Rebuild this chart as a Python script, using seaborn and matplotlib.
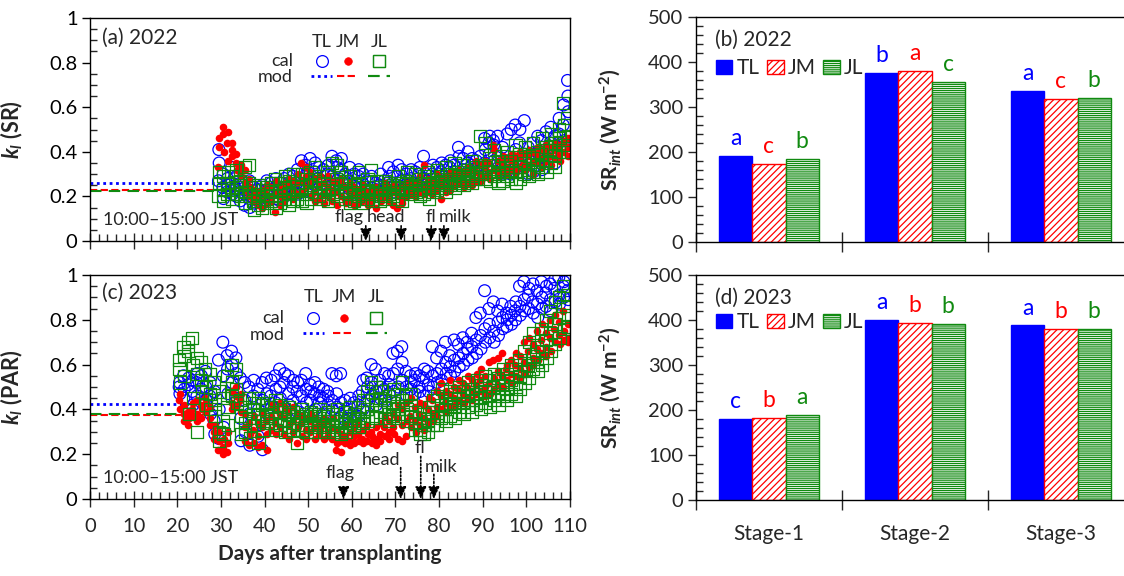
import numpy as np
import pandas as pd
import matplotlib
matplotlib.use("Agg")
import matplotlib.pyplot as plt
import seaborn as sns
from matplotlib.ticker import MultipleLocator, FormatStrFormatter
from matplotlib.lines import Line2D
from matplotlib.patches import Patch

# ---------------- data ----------------
cultivars = ["TL", "JM", "JL"]
hours = [10.5, 12.5, 14.5]          # sampling hours within a day (10:00-15:00)

start22 = 29
TL22 = [
    0.27, 0.41, 0.35, 0.24, 0.30, 0.19, 0.22, 0.28, 0.25, 0.33, 0.26, 0.21, 0.23, 0.29, 0.20,
    0.18, 0.26, 0.22, 0.16, 0.24, 0.21, 0.19, 0.27, 0.15, 0.21, 0.17, 0.24, 0.18, 0.23, 0.20,
    0.20, 0.25, 0.17, 0.22, 0.27, 0.19, 0.21, 0.26, 0.23, 0.19, 0.24, 0.28, 0.23, 0.18, 0.26,
    0.22, 0.28, 0.20, 0.25, 0.21, 0.30, 0.24, 0.29, 0.22, 0.26, 0.32, 0.21, 0.36, 0.28, 0.24,
    0.34, 0.23, 0.30, 0.37, 0.27, 0.22, 0.31, 0.25, 0.35, 0.28, 0.33, 0.24, 0.26, 0.32, 0.22,
    0.30, 0.24, 0.34, 0.38, 0.29, 0.25, 0.36, 0.27, 0.33, 0.32, 0.24, 0.37, 0.30, 0.26, 0.22,
    0.27, 0.33, 0.23, 0.25, 0.30, 0.21, 0.23, 0.29, 0.32, 0.26, 0.21, 0.30, 0.22, 0.27, 0.19,
    0.24, 0.29, 0.21, 0.20, 0.26, 0.23, 0.25, 0.22, 0.30, 0.27, 0.21, 0.24, 0.33, 0.25, 0.29,
    0.26, 0.31, 0.22, 0.29, 0.24, 0.34, 0.32, 0.27, 0.23, 0.25, 0.30, 0.22, 0.28, 0.24, 0.32,
    0.26, 0.31, 0.23, 0.30, 0.25, 0.33, 0.38, 0.28, 0.25, 0.27, 0.32, 0.24, 0.30, 0.26, 0.34,
    0.28, 0.33, 0.25, 0.31, 0.27, 0.35, 0.29, 0.34, 0.26, 0.33, 0.28, 0.36, 0.34, 0.31, 0.27,
    0.42, 0.29, 0.38, 0.32, 0.37, 0.28, 0.30, 0.35, 0.40, 0.34, 0.29, 0.37, 0.31, 0.36, 0.33,
    0.38, 0.32, 0.29, 0.46, 0.35, 0.41, 0.44, 0.39, 0.47, 0.45, 0.43, 0.36, 0.47, 0.38, 0.33,
    0.33, 0.42, 0.30, 0.36, 0.31, 0.48, 0.30, 0.50, 0.34, 0.52, 0.35, 0.41, 0.44, 0.50, 0.37,
    0.39, 0.54, 0.33, 0.42, 0.30, 0.36, 0.37, 0.44, 0.31, 0.34, 0.40, 0.47, 0.45, 0.38, 0.32,
    0.41, 0.49, 0.36, 0.44, 0.38, 0.51, 0.40, 0.47, 0.35, 0.48, 0.55, 0.42, 0.52, 0.61, 0.45,
    0.72, 0.65, 0.58]
JM22 = [
    0.33, 0.42, 0.46, 0.48, 0.51, 0.40, 0.44, 0.49, 0.36, 0.41, 0.38, 0.44, 0.35, 0.39, 0.32,
    0.31, 0.34, 0.29, 0.26, 0.32, 0.23, 0.20, 0.28, 0.24, 0.18, 0.23, 0.21, 0.16, 0.22, 0.19,
    0.19, 0.15, 0.23, 0.21, 0.17, 0.25, 0.18, 0.24, 0.20, 0.13, 0.22, 0.27, 0.20, 0.16, 0.24,
    0.22, 0.18, 0.26, 0.25, 0.20, 0.28, 0.23, 0.27, 0.19, 0.26, 0.21, 0.30, 0.35, 0.27, 0.22,
    0.29, 0.24, 0.33, 0.27, 0.31, 0.20, 0.22, 0.28, 0.18, 0.25, 0.19, 0.29, 0.21, 0.26, 0.17,
    0.24, 0.29, 0.20, 0.18, 0.23, 0.27, 0.22, 0.16, 0.26, 0.25, 0.20, 0.28, 0.19, 0.24, 0.17,
    0.22, 0.18, 0.26, 0.16, 0.21, 0.24, 0.20, 0.17, 0.23, 0.18, 0.25, 0.21, 0.22, 0.19, 0.16,
    0.17, 0.23, 0.20, 0.21, 0.15, 0.24, 0.19, 0.22, 0.18, 0.23, 0.20, 0.26, 0.18, 0.24, 0.21,
    0.22, 0.16, 0.25, 0.15, 0.20, 0.23, 0.19, 0.24, 0.17, 0.22, 0.26, 0.20, 0.24, 0.21, 0.27,
    0.20, 0.25, 0.23, 0.26, 0.22, 0.29, 0.34, 0.24, 0.21, 0.25, 0.28, 0.22, 0.21, 0.27, 0.24,
    0.26, 0.23, 0.30, 0.19, 0.27, 0.25, 0.24, 0.29, 0.22, 0.27, 0.23, 0.31, 0.25, 0.30, 0.28,
    0.29, 0.26, 0.32, 0.27, 0.31, 0.24, 0.30, 0.26, 0.33, 0.28, 0.32, 0.25, 0.31, 0.36, 0.27,
    0.30, 0.34, 0.27, 0.33, 0.29, 0.36, 0.31, 0.35, 0.28, 0.43, 0.41, 0.32, 0.32, 0.36, 0.29,
    0.35, 0.31, 0.38, 0.33, 0.37, 0.30, 0.36, 0.32, 0.39, 0.34, 0.38, 0.31, 0.37, 0.33, 0.40,
    0.35, 0.39, 0.32, 0.38, 0.34, 0.41, 0.36, 0.30, 0.40, 0.39, 0.35, 0.42, 0.37, 0.41, 0.33,
    0.40, 0.36, 0.43, 0.38, 0.42, 0.34, 0.41, 0.37, 0.44, 0.39, 0.43, 0.36, 0.44, 0.40, 0.45,
    0.42, 0.46, 0.38]
JL22 = [
    0.20, 0.31, 0.26, 0.23, 0.29, 0.18, 0.26, 0.21, 0.31, 0.29, 0.23, 0.19, 0.24, 0.32, 0.21,
    0.27, 0.20, 0.25, 0.33, 0.22, 0.17, 0.34, 0.26, 0.20, 0.18, 0.24, 0.14, 0.21, 0.16, 0.25,
    0.15, 0.20, 0.23, 0.19, 0.24, 0.17, 0.22, 0.18, 0.26, 0.28, 0.20, 0.15, 0.17, 0.23, 0.26,
    0.24, 0.19, 0.29, 0.21, 0.27, 0.16, 0.30, 0.22, 0.18, 0.19, 0.26, 0.23, 0.24, 0.18, 0.30,
    0.28, 0.21, 0.17, 0.25, 0.31, 0.19, 0.22, 0.27, 0.33, 0.29, 0.20, 0.24, 0.19, 0.26, 0.22,
    0.31, 0.23, 0.18, 0.24, 0.35, 0.21, 0.28, 0.20, 0.34, 0.22, 0.31, 0.26, 0.27, 0.19, 0.23,
    0.21, 0.29, 0.17, 0.25, 0.18, 0.22, 0.20, 0.26, 0.31, 0.24, 0.17, 0.21, 0.19, 0.23, 0.28,
    0.32, 0.22, 0.18, 0.21, 0.27, 0.24, 0.18, 0.24, 0.20, 0.23, 0.19, 0.27, 0.26, 0.21, 0.24,
    0.20, 0.25, 0.22, 0.24, 0.29, 0.19, 0.22, 0.18, 0.26, 0.27, 0.23, 0.31, 0.21, 0.26, 0.24,
    0.25, 0.30, 0.22, 0.23, 0.28, 0.20, 0.26, 0.21, 0.29, 0.24, 0.31, 0.19, 0.28, 0.22, 0.26,
    0.25, 0.32, 0.23, 0.29, 0.24, 0.27, 0.26, 0.33, 0.22, 0.30, 0.25, 0.28, 0.27, 0.35, 0.24,
    0.31, 0.26, 0.29, 0.28, 0.34, 0.25, 0.32, 0.27, 0.30, 0.29, 0.36, 0.26, 0.33, 0.28, 0.31,
    0.47, 0.30, 0.34, 0.44, 0.28, 0.33, 0.31, 0.37, 0.27, 0.34, 0.29, 0.41, 0.30, 0.36, 0.26,
    0.38, 0.31, 0.27, 0.33, 0.40, 0.29, 0.36, 0.28, 0.32, 0.31, 0.43, 0.26, 0.39, 0.33, 0.28,
    0.35, 0.30, 0.42, 0.32, 0.38, 0.29, 0.37, 0.31, 0.44, 0.34, 0.40, 0.30, 0.39, 0.33, 0.46,
    0.36, 0.42, 0.31, 0.41, 0.35, 0.48, 0.38, 0.44, 0.33, 0.50, 0.40, 0.46, 0.62, 0.43, 0.52,
    0.55, 0.47, 0.40]

start23 = 20
TL23 = [
    0.50, 0.52, 0.47, 0.55, 0.45, 0.49, 0.51, 0.40, 0.54, 0.48, 0.53, 0.42, 0.52, 0.46, 0.56,
    0.49, 0.55, 0.43, 0.57, 0.50, 0.44, 0.46, 0.52, 0.38, 0.35, 0.48, 0.29, 0.62, 0.27, 0.40,
    0.70, 0.55, 0.32, 0.64, 0.58, 0.47, 0.66, 0.60, 0.52, 0.63, 0.56, 0.45, 0.54, 0.36, 0.26,
    0.52, 0.44, 0.30, 0.50, 0.38, 0.24, 0.46, 0.53, 0.33, 0.49, 0.28, 0.40, 0.52, 0.22, 0.44,
    0.54, 0.47, 0.38, 0.46, 0.53, 0.41, 0.55, 0.43, 0.49, 0.58, 0.50, 0.45, 0.52, 0.41, 0.56,
    0.55, 0.47, 0.42, 0.50, 0.44, 0.53, 0.48, 0.39, 0.52, 0.53, 0.46, 0.41, 0.56, 0.49, 0.43,
    0.51, 0.44, 0.48, 0.47, 0.52, 0.40, 0.50, 0.43, 0.46, 0.45, 0.49, 0.38, 0.48, 0.42, 0.46,
    0.56, 0.44, 0.40, 0.55, 0.47, 0.41, 0.56, 0.43, 0.37, 0.44, 0.39, 0.35, 0.41, 0.36, 0.45,
    0.38, 0.43, 0.34, 0.42, 0.37, 0.46, 0.48, 0.40, 0.53, 0.54, 0.44, 0.50, 0.60, 0.52, 0.46,
    0.58, 0.48, 0.42, 0.53, 0.45, 0.50, 0.49, 0.56, 0.44, 0.55, 0.47, 0.51, 0.65, 0.56, 0.48,
    0.66, 0.58, 0.50, 0.68, 0.61, 0.53, 0.57, 0.50, 0.46, 0.55, 0.49, 0.52, 0.53, 0.47, 0.56,
    0.50, 0.55, 0.48, 0.54, 0.46, 0.58, 0.57, 0.51, 0.48, 0.68, 0.55, 0.50, 0.63, 0.56, 0.52,
    0.66, 0.58, 0.53, 0.70, 0.61, 0.56, 0.64, 0.59, 0.55, 0.71, 0.62, 0.57, 0.69, 0.63, 0.59,
    0.72, 0.65, 0.60, 0.70, 0.67, 0.62, 0.74, 0.68, 0.63, 0.81, 0.71, 0.65, 0.83, 0.73, 0.67,
    0.93, 0.76, 0.70, 0.85, 0.78, 0.72, 0.88, 0.75, 0.70, 0.84, 0.79, 0.73, 0.87, 0.81, 0.76,
    0.83, 0.77, 0.80, 0.86, 0.82, 0.78, 0.84, 0.80, 0.88, 0.95, 0.86, 0.82, 0.97, 0.89, 0.84,
    0.91, 0.85, 0.94, 0.88, 0.96, 0.83, 0.93, 0.87, 0.81, 0.97, 0.90, 0.85, 0.92, 0.86, 0.95,
    0.96, 0.89, 0.84, 0.94, 0.98, 0.88, 0.99, 0.91, 0.87, 0.95, 0.90, 0.97, 0.93, 0.98, 0.89]
JM23 = [
    0.44, 0.47, 0.40, 0.35, 0.42, 0.38, 0.33, 0.39, 0.36, 0.40, 0.37, 0.43, 0.38, 0.44, 0.35,
    0.42, 0.36, 0.40, 0.45, 0.39, 0.43, 0.41, 0.36, 0.33, 0.30, 0.27, 0.33, 0.22, 0.26, 0.30,
    0.20, 0.23, 0.27, 0.21, 0.25, 0.30, 0.48, 0.43, 0.40, 0.46, 0.50, 0.42, 0.44, 0.47, 0.39,
    0.38, 0.32, 0.26, 0.34, 0.24, 0.29, 0.31, 0.25, 0.37, 0.28, 0.23, 0.34, 0.32, 0.24, 0.38,
    0.35, 0.22, 0.29, 0.37, 0.31, 0.42, 0.34, 0.40, 0.29, 0.38, 0.32, 0.43, 0.36, 0.29, 0.41,
    0.39, 0.33, 0.27, 0.35, 0.41, 0.30, 0.38, 0.25, 0.32, 0.34, 0.28, 0.37, 0.31, 0.36, 0.27,
    0.35, 0.30, 0.38, 0.32, 0.27, 0.36, 0.29, 0.34, 0.31, 0.33, 0.27, 0.36, 0.30, 0.35, 0.28,
    0.27, 0.32, 0.36, 0.22, 0.25, 0.31, 0.21, 0.26, 0.29, 0.25, 0.28, 0.33, 0.26, 0.30, 0.24,
    0.28, 0.25, 0.32, 0.34, 0.29, 0.26, 0.27, 0.31, 0.25, 0.26, 0.33, 0.29, 0.30, 0.25, 0.28,
    0.27, 0.32, 0.24, 0.29, 0.26, 0.34, 0.32, 0.28, 0.37, 0.35, 0.30, 0.27, 0.38, 0.32, 0.29,
    0.36, 0.42, 0.27, 0.40, 0.33, 0.26, 0.43, 0.28, 0.35, 0.37, 0.45, 0.32, 0.35, 0.41, 0.30,
    0.38, 0.33, 0.43, 0.36, 0.42, 0.31, 0.40, 0.34, 0.45, 0.44, 0.38, 0.35, 0.48, 0.41, 0.37,
    0.46, 0.52, 0.40, 0.43, 0.48, 0.39, 0.47, 0.41, 0.53, 0.45, 0.50, 0.42, 0.49, 0.44, 0.53,
    0.47, 0.52, 0.43, 0.50, 0.45, 0.55, 0.48, 0.53, 0.44, 0.51, 0.47, 0.56, 0.53, 0.48, 0.58,
    0.50, 0.55, 0.46, 0.61, 0.52, 0.47, 0.62, 0.54, 0.49, 0.63, 0.51, 0.57, 0.65, 0.55, 0.50,
    0.58, 0.53, 0.60, 0.56, 0.62, 0.52, 0.60, 0.55, 0.65, 0.64, 0.58, 0.54, 0.70, 0.61, 0.56,
    0.66, 0.72, 0.59, 0.63, 0.69, 0.60, 0.75, 0.67, 0.62, 0.71, 0.65, 0.78, 0.68, 0.74, 0.64,
    0.80, 0.72, 0.66, 0.76, 0.70, 0.82, 0.73, 0.79, 0.69, 0.84, 0.75, 0.71, 0.78, 0.72, 0.70]
JL23 = [
    0.62, 0.58, 0.52, 0.68, 0.64, 0.55, 0.70, 0.66, 0.38, 0.72, 0.60, 0.45, 0.63, 0.56, 0.30,
    0.61, 0.53, 0.48, 0.58, 0.50, 0.42, 0.56, 0.47, 0.40, 0.52, 0.44, 0.37, 0.48, 0.30, 0.26,
    0.45, 0.35, 0.29, 0.55, 0.41, 0.33, 0.60, 0.52, 0.46, 0.58, 0.49, 0.43, 0.44, 0.37, 0.29,
    0.41, 0.34, 0.30, 0.45, 0.36, 0.27, 0.40, 0.33, 0.43, 0.38, 0.45, 0.25, 0.42, 0.35, 0.31,
    0.37, 0.43, 0.34, 0.41, 0.34, 0.38, 0.36, 0.44, 0.31, 0.39, 0.33, 0.42, 0.35, 0.40, 0.30,
    0.38, 0.32, 0.41, 0.34, 0.39, 0.31, 0.25, 0.37, 0.33, 0.36, 0.31, 0.40, 0.33, 0.38, 0.30,
    0.37, 0.32, 0.39, 0.34, 0.30, 0.38, 0.36, 0.33, 0.40, 0.32, 0.37, 0.30, 0.35, 0.31, 0.39,
    0.33, 0.38, 0.30, 0.36, 0.32, 0.40, 0.31, 0.35, 0.29, 0.34, 0.39, 0.30, 0.37, 0.32, 0.41,
    0.33, 0.38, 0.35, 0.36, 0.41, 0.32, 0.39, 0.34, 0.44, 0.48, 0.40, 0.35, 0.52, 0.44, 0.37,
    0.50, 0.42, 0.36, 0.45, 0.39, 0.48, 0.41, 0.36, 0.44, 0.38, 0.46, 0.35, 0.43, 0.37, 0.49,
    0.47, 0.40, 0.36, 0.52, 0.44, 0.38, 0.46, 0.40, 0.35, 0.42, 0.37, 0.47, 0.39, 0.34, 0.31,
    0.36, 0.31, 0.29, 0.33, 0.29, 0.38, 0.35, 0.30, 0.41, 0.39, 0.33, 0.44, 0.46, 0.37, 0.33,
    0.42, 0.36, 0.49, 0.40, 0.35, 0.45, 0.43, 0.37, 0.48, 0.41, 0.47, 0.36, 0.45, 0.39, 0.50,
    0.43, 0.48, 0.38, 0.46, 0.41, 0.52, 0.44, 0.49, 0.39, 0.47, 0.42, 0.53, 0.45, 0.51, 0.40,
    0.48, 0.43, 0.55, 0.46, 0.53, 0.41, 0.50, 0.44, 0.56, 0.47, 0.54, 0.42, 0.51, 0.46, 0.58,
    0.49, 0.56, 0.44, 0.53, 0.47, 0.60, 0.58, 0.50, 0.46, 0.62, 0.55, 0.49, 0.66, 0.57, 0.52,
    0.60, 0.70, 0.54, 0.64, 0.58, 0.74, 0.68, 0.61, 0.57, 0.76, 0.66, 0.60, 0.71, 0.80, 0.63,
    0.84, 0.74, 0.66, 0.78, 0.88, 0.69, 0.90, 0.81, 0.72, 0.95, 0.86, 0.76, 0.91, 0.82, 0.77]

# modelled k (constant before canopy data)
mod22 = [0.26, 0.23, 0.225]
mod23 = [0.425, 0.375, 0.38]
mod_end22 = 36
mod_end23 = 27

# growth stage markers
stage_names = ["flag", "head", "fl", "milk"]
stage_day22 = [63.2, 71.3, 78.2, 81.1]
stage_day23 = [58.1, 71.2, 75.8, 78.8]

# bar data (SR_int, W m-2)
stages = ["Stage-1", "Stage-2", "Stage-3"]
sr22_TL = [192, 375, 336]
sr22_JM = [173, 380, 318]
sr22_JL = [185, 355, 320]
sr23_TL = [180, 400, 388]
sr23_JM = [183, 394, 381]
sr23_JL = [190, 392, 381]
let22_TL = ["a", "b", "a"]
let22_JM = ["c", "a", "c"]
let22_JL = ["b", "c", "b"]
let23_TL = ["c", "a", "a"]
let23_JM = ["b", "b", "b"]
let23_JL = ["a", "b", "b"]

# ---------------- style ----------------
BLUE, RED, GREEN = "#0000FF", "#FF0000", "#108A10"
colors = {"TL": BLUE, "JM": RED, "JL": GREEN}

sns.set_theme(style="white")
plt.rcParams["font.family"] = ["Lato", "DejaVu Sans"]
plt.rcParams["mathtext.fontset"] = "custom"
plt.rcParams["mathtext.rm"] = "Lato"
plt.rcParams["mathtext.it"] = "Lato:italic"
plt.rcParams["mathtext.bf"] = "Lato:bold"
try:
    plt.rcParams["mathtext.bfit"] = "Lato:italic:bold"
except KeyError:
    pass
plt.rcParams["axes.edgecolor"] = "black"
plt.rcParams["axes.linewidth"] = 1.0
plt.rcParams["hatch.linewidth"] = 0.9
plt.rcParams["axes.unicode_minus"] = True

TICK = 14.5

fig = plt.figure(figsize=(11.24, 5.76), dpi=100)
W, H = 1124.0, 576.0


def add_ax(x0, y0, x1, y1):
    return fig.add_axes([x0 / W, 1 - y1 / H, (x1 - x0) / W, (y1 - y0) / H])


axA = add_ax(90, 18, 570, 241)
axC = add_ax(90, 275, 570, 499)
axB = add_ax(696, 17, 1134, 242)
axD = add_ax(696, 275, 1134, 500)


def frame(start, vals, name):
    v = np.asarray(vals, dtype=float).reshape(-1, len(hours))
    days = np.arange(start, start + len(v))
    x = (days[:, None] + np.asarray(hours)[None, :] / 24.0).ravel()
    return pd.DataFrame({"day": x, "k": v.ravel(), "cult": name})


marker_kw = {
    "TL": dict(marker="o", s=72, linewidth=0.9, fc="none", ec=BLUE),
    "JM": dict(marker="o", s=30, linewidth=0.0, fc=RED, ec=RED),
    "JL": dict(marker="s", s=76, linewidth=0.9, fc="none", ec=GREEN),
}
mod_style = {
    "TL": dict(ls=(0, (1.0, 1.3)), lw=2.0),
    "JM": dict(ls=(0, (3.5, 1.6)), lw=1.5),
    "JL": dict(ls=(0, (5.5, 3.5)), lw=1.5),
}


def scatter_panel(ax, start, series, mods, mod_end, ylabel, label, sdays,
                  stext_x, stext_y, sarrow_y, legx, legy, xlabels):
    for name, m in zip(cultivars, mods):
        ax.hlines(m, 0, mod_end, colors=colors[name], zorder=1,
                  linestyles=mod_style[name]["ls"], lw=mod_style[name]["lw"])
    for name, vals in zip(cultivars, series):
        df = frame(start, vals, name)
        kw = marker_kw[name]
        sns.scatterplot(data=df, x="day", y="k", ax=ax, marker=kw["marker"],
                        s=kw["s"], linewidth=kw["linewidth"], zorder=2, legend=False)
        coll = ax.collections[-1]
        coll.set_facecolor(kw["fc"])
        coll.set_edgecolor(kw["ec"])
        coll.set_linewidth(kw["linewidth"])
    ax.set_xlim(0, 110)
    ax.set_ylim(0, 1)
    ax.xaxis.set_major_locator(MultipleLocator(10))
    ax.xaxis.set_minor_locator(MultipleLocator(2))
    ax.yaxis.set_major_locator(MultipleLocator(0.2))
    ax.yaxis.set_minor_locator(MultipleLocator(0.05))
    ax.yaxis.set_major_formatter(FormatStrFormatter("%g"))
    ax.tick_params(axis="y", which="major", direction="out", length=6, width=1,
                   labelsize=TICK, pad=3, colors="black")
    ax.tick_params(axis="y", which="minor", direction="in", length=5, width=1)
    ax.tick_params(axis="x", which="major", direction="inout", length=12, width=1,
                   labelsize=TICK, pad=8, labelbottom=xlabels)
    ax.tick_params(axis="x", which="minor", direction="in", length=5, width=1)
    ax.tick_params(which="both", bottom=True, left=True, top=False, right=False)
    ax.set_ylabel(ylabel, fontsize=15.5, fontweight="bold")
    ax.yaxis.set_label_coords(-0.135, 0.5)
    if xlabels:
        ax.set_xlabel("Days after transplanting", fontsize=15, fontweight="bold", labelpad=6)
    else:
        ax.set_xlabel("")
    ax.text(0.024, legy[0] + 0.02, label, transform=ax.transAxes, fontsize=15,
            ha="left", va="center")
    ax.text(0.027, 0.092, "10:00\u201315:00 JST",
            transform=ax.transAxes, fontsize=13, ha="left", va="center")
    # growth stage arrows
    for nm, d, tx, ty, ay in zip(stage_names, sdays, stext_x, stext_y, sarrow_y):
        ax.annotate("", xy=(d, 0), xytext=(d, ay),
                    arrowprops=dict(arrowstyle="-|>,head_width=0.28,head_length=0.6",
                                    color="black", lw=1.2, ls=(0, (1, 1.2)),
                                    shrinkA=0, shrinkB=0))
        ax.text(tx, ty, nm, fontsize=13, ha="center", va="center")
    # custom legend: headers, row labels, one key column per cultivar
    hy, cy, my = legy
    for name, x in zip(cultivars, legx):
        ax.text(x, hy, name, transform=ax.transAxes, fontsize=13, ha="center", va="center")
        kw = marker_kw[name]
        ms = np.sqrt(kw["s"])
        h1 = Line2D([], [], ls="none", marker=kw["marker"], markersize=ms,
                    mfc=kw["fc"], mec=kw["ec"], mew=max(kw["linewidth"], 0.5))
        h2 = Line2D([], [], color=colors[name], ls=mod_style[name]["ls"],
                    lw=mod_style[name]["lw"])
        leg = ax.legend([h1, h2], ["", ""], loc="center", bbox_to_anchor=(x, (cy + my) / 2),
                        bbox_transform=ax.transAxes, frameon=False, fontsize=8,
                        handlelength=1.9, handleheight=1.1, handletextpad=0.0,
                        labelspacing=0.35, borderpad=0, borderaxespad=0)
        ax.add_artist(leg)
    ax.text(legx[0] - 0.06, cy, "cal", transform=ax.transAxes, fontsize=13,
            ha="right", va="center")
    ax.text(legx[0] - 0.06, my, "mod", transform=ax.transAxes, fontsize=13,
            ha="right", va="center")
    for sp in ax.spines.values():
        sp.set_color("black")
        sp.set_linewidth(1.0)


scatter_panel(axA, start22, [TL22, JM22, JL22], mod22, mod_end22,
              r"$\mathbfit{k_l}$ (SR)", "(a) 2022", stage_day22,
              [59.3, 67.8, 78.1, 83.6], [0.108] * 4, [0.068] * 4,
              [0.483, 0.537, 0.602], (0.892, 0.807, 0.735), False)
scatter_panel(axC, start23, [TL23, JM23, JL23], mod23, mod_end23,
              r"$\mathbfit{k_l}$ (PAR)", "(c) 2023", stage_day23,
              [57.3, 66.7, 75.6, 80.4], [0.116, 0.174, 0.228, 0.143],
              [0.055, 0.14, 0.19, 0.11],
              [0.465, 0.529, 0.596], (0.90, 0.808, 0.732), True)

# ---------------- bar panels ----------------
hatch_style = {
    "TL": dict(fc=BLUE, ec=BLUE, hatch=None),
    "JM": dict(fc="white", ec=RED, hatch="/////"),
    "JL": dict(fc="white", ec=GREEN, hatch="--------"),
}


def bar_panel(ax, vals, letters, label, legy, show_x):
    df = pd.DataFrame({
        "stage": np.repeat([stages], len(cultivars), axis=0).ravel(),
        "cult": np.repeat(cultivars, len(stages)),
        "sr": np.concatenate(vals),
    })
    sns.barplot(data=df, x="stage", y="sr", hue="cult", hue_order=cultivars,
                order=stages, palette=colors, width=0.68, saturation=1,
                errorbar=None, ax=ax, legend=False, linewidth=1.0)
    for name, cont, lets in zip(cultivars, ax.containers, letters):
        st = hatch_style[name]
        for bar, lt in zip(cont, lets):
            bar.set_facecolor(st["fc"])
            bar.set_edgecolor(st["ec"])
            bar.set_linewidth(1.0)
            if st["hatch"]:
                bar.set_hatch(st["hatch"])
            ax.text(bar.get_x() + bar.get_width() / 2, bar.get_height() + 24, lt,
                    color=colors[name], fontsize=16.5, ha="center", va="baseline")
    ax.set_xlim(-0.5, 2.5)
    ax.set_ylim(0, 500)
    ax.yaxis.set_major_locator(MultipleLocator(100))
    ax.yaxis.set_minor_locator(MultipleLocator(20))
    ax.set_xticks([-0.5, 0.5, 1.5, 2.5])
    ax.set_xticklabels([])
    ax.set_xticks([0, 1, 2], minor=True)
    ax.set_xticklabels(stages if show_x else ["", "", ""], minor=True)
    ax.tick_params(axis="x", which="major", direction="inout", length=14, width=1)
    ax.tick_params(axis="x", which="minor", length=0, labelsize=15, pad=17)
    ax.tick_params(axis="y", which="major", direction="out", length=6, width=1,
                   labelsize=TICK, pad=3)
    ax.tick_params(axis="y", which="minor", direction="in", length=5, width=1)
    ax.tick_params(which="both", bottom=True, left=True, top=False, right=False)
    ax.set_xlabel("")
    ax.set_ylabel(r"SR$_{\mathbfit{int}}$ (W m$^{\mathbf{-2}}$)", fontsize=15,
                  fontweight="bold")
    ax.yaxis.set_label_coords(-0.167, 0.5)
    ax.text(0.044, 0.90, label, transform=ax.transAxes, fontsize=15, ha="left", va="center")
    handles = [Patch(facecolor=hatch_style[c]["fc"], edgecolor=hatch_style[c]["ec"],
                     hatch=hatch_style[c]["hatch"], linewidth=1.0) for c in cultivars]
    ax.legend(handles, cultivars, loc="center left", bbox_to_anchor=(0.045, legy),
              ncol=3, frameon=False, fontsize=15, handlelength=0.8, handleheight=0.7,
              handletextpad=0.2, columnspacing=0.35, borderpad=0, borderaxespad=0)
    for sp in ax.spines.values():
        sp.set_color("black")
        sp.set_linewidth(1.0)


bar_panel(axB, [sr22_TL, sr22_JM, sr22_JL], [let22_TL, let22_JM, let22_JL],
          "(b) 2022", 0.772, False)
bar_panel(axD, [sr23_TL, sr23_JM, sr23_JL], [let23_TL, let23_JM, let23_JL],
          "(d) 2023", 0.79, True)

fig.savefig("out.png", dpi=100)
